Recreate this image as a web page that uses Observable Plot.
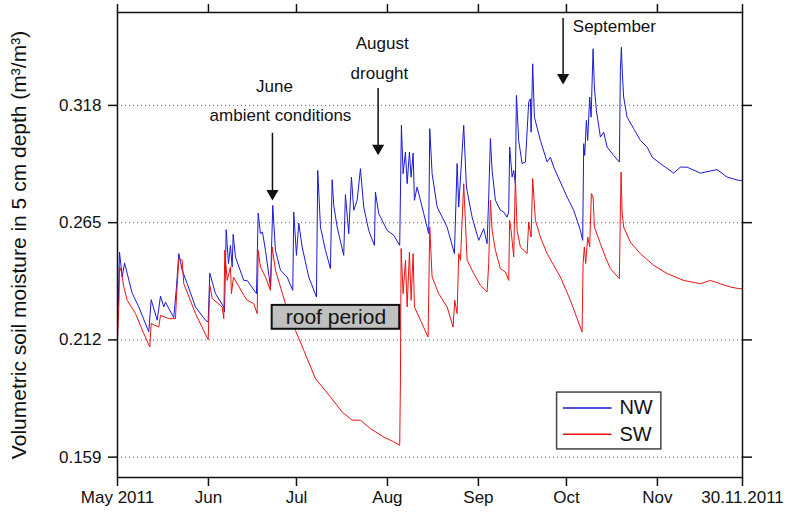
<!DOCTYPE html>
<html><head><meta charset="utf-8">
<script src="https://cdn.jsdelivr.net/npm/d3@7"></script>
<script src="https://cdn.jsdelivr.net/npm/@observablehq/plot@0.6"></script>
<style>body{margin:0;background:#fff;}</style>
</head><body><div id="chart"></div>
<script>
// ---- data (day = days since 1 May 2011, value = m3/m3) ----
const seriesNames = ["NW", "SW"];
const seriesColors = ["#1a1ad6", "#ee1111"];

const nwSeries = [
[0.24,0.2276],[0.68,0.2517],[1.60,0.2404],[2.39,0.2468],[5.01,0.2331],[7.26,0.2269],[10.66,0.2156],[11.48,0.2302],[13.53,0.2209],[14.65,0.2318],
[15.78,0.2269],[16.35,0.2291],[17.48,0.2262],[19.18,0.2221],[20.10,0.2359],[20.89,0.2510],[22.04,0.2435],[23.75,0.2374],[26.58,0.2269],[29.98,0.2209],
[30.90,0.2201],[31.45,0.2422],[33.39,0.2329],[36.22,0.2269],[36.46,0.2246],[37.04,0.2618],[37.82,0.2465],[38.50,0.2547],[39.08,0.2450],[39.42,0.2597],
[40.20,0.2495],[43.03,0.2389],[44.19,0.2389],[47.36,0.2329],[47.94,0.2693],[48.72,0.2600],[49.40,0.2608],[50.43,0.2525],[52.13,0.2359],[52.91,0.2728],
[53.83,0.2525],[55.54,0.2435],[57.82,0.2404],[59.73,0.2344],[60.07,0.2698],[60.99,0.2502],[61.77,0.2648],[62.93,0.2540],[65.18,0.2404],[67.80,0.2314],
[68.25,0.2886],[69.17,0.2630],[70.87,0.2525],[72.57,0.2442],[73.15,0.2844],[73.70,0.2728],[74.86,0.2630],[77.10,0.2502],[77.68,0.2777],[78.81,0.2600],
[79.73,0.2856],[80.51,0.2706],[81.67,0.2751],[82.79,0.2894],[83.92,0.2721],[85.62,0.2615],[87.56,0.2547],[87.90,0.2788],[89.03,0.2691],[91.89,0.2615],
[94.14,0.2593],[96.18,0.2547],[96.76,0.3090],[97.34,0.2871],[98.13,0.2969],[98.71,0.2826],[99.49,0.2969],[100.07,0.2856],[100.75,0.2965],[101.19,0.2751],
[102.11,0.2811],[104.36,0.2691],[106.06,0.2600],[106.41,0.3075],[107.22,0.2871],[108.93,0.2721],[112.33,0.2630],[114.82,0.2510],[115.74,0.2917],[116.29,0.2721],
[117.99,0.3090],[118.91,0.2811],[120.85,0.2675],[123.10,0.2570],[124.80,0.2623],[125.96,0.2555],[126.51,0.2766],[127.09,0.3030],[127.67,0.2886],[128.79,0.2751],
[130.49,0.2706],[131.62,0.2698],[132.78,0.2675],[133.32,0.2698],[133.66,0.2992],[134.48,0.2856],[135.03,0.2886],[135.60,0.2826],[135.95,0.3225],[136.73,0.3022],
[137.89,0.2917],[139.01,0.2924],[140.14,0.3195],[140.72,0.3210],[140.95,0.3059],[141.50,0.3368],[142.08,0.3127],[144.12,0.3022],[146.41,0.2924],[147.53,0.2946],
[148.65,0.2901],[153.22,0.2766],[155.47,0.2706],[157.75,0.2615],[158.54,0.2570],[158.88,0.3007],[159.22,0.2954],[159.80,0.3112],[160.24,0.3022],[160.92,0.3218],
[161.40,0.3127],[162.08,0.3436],[162.52,0.3263],[163.20,0.3157],[164.57,0.3037],[165.69,0.3059],[166.85,0.2992],[169.10,0.2954],[171.04,0.2924],[171.38,0.3338],
[171.72,0.3443],[172.06,0.3323],[172.50,0.3218],[173.66,0.3127],[175.91,0.3075],[178.19,0.3022],[180.48,0.2992],[182.18,0.2946],[185.01,0.2917],[189.54,0.2874],
[191.82,0.2901],[194.11,0.2901],[198.64,0.2874],[204.33,0.2890],[207.73,0.2856],[211.69,0.2841],[212.9,0.2841]
];

const swSeries = [
[0.00,0.2118],[0.51,0.2299],[0.68,0.2450],[1.36,0.2427],[2.15,0.2359],[3.30,0.2299],[6.13,0.2239],[8.96,0.2149],[11.00,0.2088],[11.48,0.2194],
[14.07,0.2178],[14.65,0.2231],[17.48,0.2216],[19.76,0.2216],[20.10,0.2314],[20.89,0.2487],[22.04,0.2480],[22.59,0.2374],[26.58,0.2239],[30.90,0.2121],
[31.45,0.2367],[32.27,0.2307],[35.67,0.2269],[36.22,0.2216],[36.56,0.2525],[37.38,0.2389],[38.50,0.2450],[38.84,0.2329],[39.52,0.2404],[43.03,0.2322],
[44.19,0.2299],[46.44,0.2284],[47.60,0.2239],[47.94,0.2525],[48.72,0.2450],[50.43,0.2404],[52.13,0.2344],[52.71,0.2540],[53.83,0.2435],[55.54,0.2359],
[57.24,0.2284],[60.65,0.2163],[63.47,0.2073],[67.46,0.1945],[72.57,0.1862],[76.56,0.1794],[79.97,0.1757],[82.79,0.1757],[86.20,0.1719],[90.73,0.1681],
[93.70,0.1662],[96.18,0.1644],[96.42,0.1938],[96.66,0.2533],[97.34,0.2329],[98.13,0.2480],[98.71,0.2269],[99.49,0.2517],[100.07,0.2299],[100.75,0.2510],
[101.19,0.2269],[103.24,0.2209],[105.86,0.2133],[106.41,0.2630],[107.22,0.2404],[109.47,0.2329],[112.33,0.2269],[114.37,0.2178],[114.92,0.2299],[115.74,0.2239],
[116.29,0.2510],[116.87,0.2480],[117.99,0.2826],[119.15,0.2480],[121.40,0.2420],[123.68,0.2367],[125.96,0.2337],[126.51,0.2465],[127.09,0.2751],[127.67,0.2615],
[128.79,0.2525],[130.49,0.2442],[132.20,0.2427],[133.32,0.2389],[133.66,0.2660],[134.14,0.2615],[135.03,0.2495],[135.60,0.2856],[136.18,0.2615],[137.31,0.2540],
[139.59,0.2510],[140.14,0.2653],[140.95,0.2585],[141.50,0.2849],[142.42,0.2660],[144.12,0.2585],[146.41,0.2510],[150.94,0.2404],[154.34,0.2299],[158.33,0.2156],
[158.67,0.2465],[159.11,0.2540],[159.56,0.2465],[160.24,0.2585],[160.92,0.2540],[161.50,0.2781],[162.08,0.2766],[162.52,0.2630],[164.57,0.2555],[166.27,0.2495],
[167.97,0.2442],[171.04,0.2397],[171.38,0.2698],[171.62,0.2879],[171.96,0.2698],[172.50,0.2630],[174.79,0.2562],[178.19,0.2510],[182.73,0.2457],[187.29,0.2420],
[192.95,0.2389],[198.64,0.2374],[202.04,0.2389],[205.45,0.2374],[208.86,0.2359],[211.69,0.2352],[212.9,0.2352]
];

const yTicks = [0.159, 0.212, 0.265, 0.318];
const yDomain = [0.1498, 0.3600];
const xDomainDays = [0, 213];
const xTickDays = [0, 31, 61, 92, 123, 153, 184, 213];
const xTickLabels = ["May 2011", "Jun", "Jul", "Aug", "Sep", "Oct", "Nov", "30.11.2011"];
const yLabel = "Volumetric soil moisture in 5 cm depth (m³/m³)";

const noteTexts = ["June", "ambient conditions", "August", "drought", "September"];
const noteDays = [53.49, 55.54, 90.19, 89.27, 169.34];
const noteValues = [0.3266, 0.3132, 0.3460, 0.3325, 0.3537];

const arrowDays = [52.81, 88.82, 151.86];
const arrowFrom = [0.3054, 0.3257, 0.3573];
const arrowTo = [0.2764, 0.2968, 0.3288];

const roofLabel = "roof period";
const roofDays = [52.71, 96.18];
const roofValues = [0.2168, 0.2276];

const legendBoxDays = [149.81, 185.35];
const legendBoxValues = [0.1625, 0.1882];
const legendRowValues = [0.1812, 0.1694];
const legendLineDays = [151.96, 168.55];
const legendTextDay = 171.04;

// ---- build ----
const startMs = Date.UTC(2011, 4, 1);
const toDate = d => new Date(startMs + d * 864e5);
const nw = nwSeries.map(([d, v]) => ({date: toDate(d), value: v}));
const sw = swSeries.map(([d, v]) => ({date: toDate(d), value: v}));
const xTicks = xTickDays.map(toDate);
const labelMap = new Map(xTicks.map((d, i) => [+d, xTickLabels[i]]));
const notes = noteTexts.map((t, i) => ({text: t, date: toDate(noteDays[i]), value: noteValues[i]}));
const arrows = arrowDays.map((d, i) => ({date: toDate(d), from: arrowFrom[i], to: arrowTo[i]}));
const roof = [{x1: toDate(roofDays[0]), x2: toDate(roofDays[1]), y1: roofValues[0], y2: roofValues[1],
  xm: toDate((roofDays[0] + roofDays[1]) / 2), ym: (roofValues[0] + roofValues[1]) / 2, label: roofLabel}];
const legendBox = [{x1: toDate(legendBoxDays[0]), x2: toDate(legendBoxDays[1]), y1: legendBoxValues[0], y2: legendBoxValues[1]}];
const legendRows = seriesNames.map((n, i) => ({name: n, color: seriesColors[i], value: legendRowValues[i],
  x1: toDate(legendLineDays[0]), x2: toDate(legendLineDays[1]), xt: toDate(legendTextDay)}));

const chart = Plot.plot({
  width: 795, height: 514,
  marginLeft: 117, marginRight: 53, marginTop: 12, marginBottom: 37,
  style: {fontFamily: "'Liberation Sans', Arial, sans-serif", fontSize: "17px", color: "#111", background: "#fff", overflow: "visible"},
  x: {type: "utc", domain: xDomainDays.map(toDate)},
  y: {domain: yDomain},
  marks: [
    Plot.ruleY(yTicks, {stroke: "#666", strokeDasharray: "1,3", strokeWidth: 1}),
    Plot.line(nw, {x: "date", y: "value", stroke: seriesColors[0], strokeWidth: 1}),
    Plot.line(sw, {x: "date", y: "value", stroke: seriesColors[1], strokeWidth: 1}),
    Plot.frame({stroke: "#111", strokeWidth: 1.5}),
    Plot.axisY({ticks: yTicks, tickFormat: ".3f", tickSize: 9, tickPadding: 7, fontSize: 17, strokeWidth: 1.5, label: null}),
    Plot.axisY({anchor: "right", ticks: yTicks, tickFormat: () => "", tickSize: 9, strokeWidth: 1.5, label: null}),
    Plot.axisX({ticks: xTicks, tickFormat: d => labelMap.get(+d), tickSize: 9, tickPadding: 4, fontSize: 17, strokeWidth: 1.5, label: null}),
    Plot.axisX({anchor: "top", ticks: xTicks, tickFormat: () => "", tickSize: 9, strokeWidth: 1.5, label: null}),
    Plot.text([yLabel], {frameAnchor: "left", textAnchor: "middle", lineAnchor: "middle", rotate: -90, dx: -98, fontSize: 21, fill: "#111"}),
    Plot.text(notes, {x: "date", y: "value", text: "text", fontSize: 17, fill: "#111"}),
    Plot.ruleX(arrows, {x: "date", y1: "from", y2: "to", stroke: "#111", strokeWidth: 1.5}),
    Plot.dot(arrows, {x: "date", y: "to", symbol: "triangle", rotate: 180, r: 4.5, fill: "#111", stroke: null, dy: -4}),
    Plot.rect(roof, {x1: "x1", x2: "x2", y1: "y1", y2: "y2", fill: "#c0c0c0", stroke: "#111", strokeWidth: 2}),
    Plot.text(roof, {x: "xm", y: "ym", text: "label", fontSize: 21, fill: "#111"}),
    Plot.rect(legendBox, {x1: "x1", x2: "x2", y1: "y1", y2: "y2", fill: "#fff", stroke: "#444", strokeWidth: 1.5}),
    Plot.ruleY(legendRows, {x1: "x1", x2: "x2", y: "value", stroke: "color", strokeWidth: 1.5}),
    Plot.text(legendRows, {x: "xt", y: "value", text: "name", textAnchor: "start", fontSize: 20, fill: "#111"})
  ]
});
document.getElementById("chart").appendChild(chart);
</script>
</body></html>
